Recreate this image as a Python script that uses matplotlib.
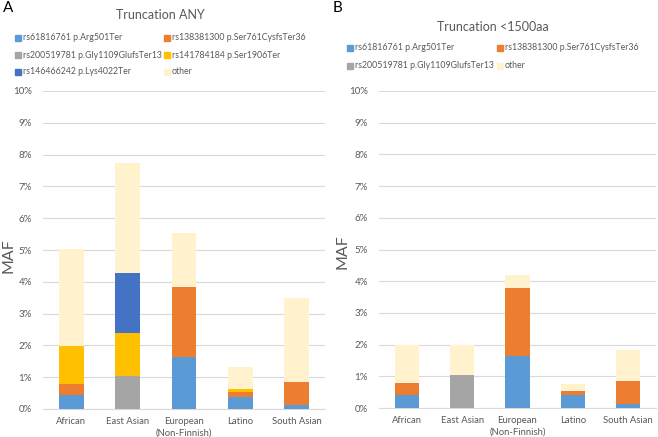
import matplotlib
matplotlib.use("Agg")
import matplotlib.pyplot as plt
from matplotlib.patches import Rectangle
import numpy as np

plt.rcParams['font.family'] = ['Lato', 'DejaVu Sans']

categories = ["African", "East Asian", "European\n(Non-Finnish)", "Latino", "South Asian"]

# Panel A: Truncation ANY (MAF, %)
a_arg501 = [0.43, 0.0, 1.65, 0.39, 0.14]
a_ser761 = [0.36, 0.0, 2.18, 0.15, 0.72]
a_gly1109 = [0.0, 1.04, 0.0, 0.0, 0.0]
a_ser1906 = [1.20, 1.35, 0.0, 0.08, 0.0]
a_lys4022 = [0.0, 1.89, 0.0, 0.0, 0.0]
a_other = [3.05, 3.45, 1.72, 0.71, 2.64]

# Panel B: Truncation <1500aa (MAF, %)
b_arg501 = [0.42, 0.0, 1.63, 0.40, 0.13]
b_ser761 = [0.36, 0.0, 2.17, 0.14, 0.72]
b_gly1109 = [0.0, 1.03, 0.0, 0.0, 0.0]
b_other = [1.20, 0.95, 0.41, 0.23, 0.99]

labels_a = ["rs61816761 p.Arg501Ter", "rs138381300 p.Ser761CysfsTer36",
            "rs200519781 p.Gly1109GlufsTer13", "rs141784184 p.Ser1906Ter",
            "rs146466242 p.Lys4022Ter", "other"]
labels_b = ["rs61816761 p.Arg501Ter", "rs138381300 p.Ser761CysfsTer36",
            "rs200519781 p.Gly1109GlufsTer13", "other"]

C_BLUE = "#5B9BD5"
C_ORANGE = "#ED7D31"
C_GRAY = "#A5A5A5"
C_GOLD = "#FFC000"
C_DBLUE = "#4472C4"
C_OTHER = "#FFF2CC"
TXT = "#595959"

colors_a = [C_BLUE, C_ORANGE, C_GRAY, C_GOLD, C_DBLUE, C_OTHER]
colors_b = [C_BLUE, C_ORANGE, C_GRAY, C_OTHER]

W, H = 658, 437
fig = plt.figure(figsize=(W / 100, H / 100), dpi=100)


def px_axes(x0, x1, y_top, y_bot):
    return fig.add_axes([x0 / W, 1 - y_bot / H, (x1 - x0) / W, (y_bot - y_top) / H])


def draw_panel(ax, series, colors):
    x = np.arange(len(categories))
    bottom = np.zeros(len(categories))
    for vals, c in zip(series, colors):
        v = np.array(vals)
        ax.bar(x, v, width=0.44, bottom=bottom, color=c, zorder=3, linewidth=0)
        bottom += v
    ax.set_ylim(0, 10)
    ax.set_xlim(-0.5, len(categories) - 0.5)
    ax.set_yticks(np.arange(0, 11, 1))
    ax.set_yticklabels([f"{i}%" for i in range(11)])
    ax.set_xticks(x)
    ax.set_xticklabels(categories, linespacing=1.3)
    ax.grid(axis="y", color="#D9D9D9", linewidth=0.8, zorder=0)
    for s in ["top", "right", "left"]:
        ax.spines[s].set_visible(False)
    ax.spines["bottom"].set_color("#D9D9D9")
    ax.spines["bottom"].set_linewidth(0.8)
    ax.tick_params(axis="y", length=0, labelsize=7, colors=TXT, pad=8)
    ax.tick_params(axis="x", length=0, labelsize=6.8, colors=TXT, pad=6)


def draw_legend(x_cols, y_rows, labels, colors):
    for i, (lab, c) in enumerate(zip(labels, colors)):
        col = i % 2
        row = i // 2
        xm = x_cols[col]
        ym = y_rows[row]
        fig.patches.append(Rectangle((xm / W, 1 - (ym + 3) / H), 6 / W, 6 / H,
                                     transform=fig.transFigure, color=c, figure=fig))
        fig.text((xm + 8) / W, 1 - ym / H, lab, fontsize=6.3, color=TXT, va="center", ha="left")


# Panel A
axA = px_axes(43, 325, 91, 409)
draw_panel(axA, [a_arg501, a_ser761, a_gly1109, a_ser1906, a_lys4022, a_other], colors_a)
fig.text(3 / W, 1 - 8 / H, "A", fontsize=11, color="black", va="center", ha="left")
fig.text(160 / W, 1 - 15 / H, "Truncation ANY", fontsize=9, color=TXT, va="center", ha="center")
draw_legend([15, 164], [38, 55, 72], labels_a, colors_a)
fig.text(8 / W, 1 - 256 / H, "MAF", fontsize=11.5, color=TXT, rotation=90, va="center", ha="center")

# Panel B
axB = px_axes(379, 656, 91, 408)
draw_panel(axB, [b_arg501, b_ser761, b_gly1109, b_other], colors_b)
fig.text(333 / W, 1 - 8 / H, "B", fontsize=11, color="black", va="center", ha="left")
fig.text(493 / W, 1 - 27 / H, "Truncation <1500aa", fontsize=9, color=TXT, va="center", ha="center")
draw_legend([347, 497], [48, 66], labels_b, colors_b)
fig.text(342 / W, 1 - 252 / H, "MAF", fontsize=11.5, color=TXT, rotation=90, va="center", ha="center")

fig.savefig("out.png", dpi=100)
